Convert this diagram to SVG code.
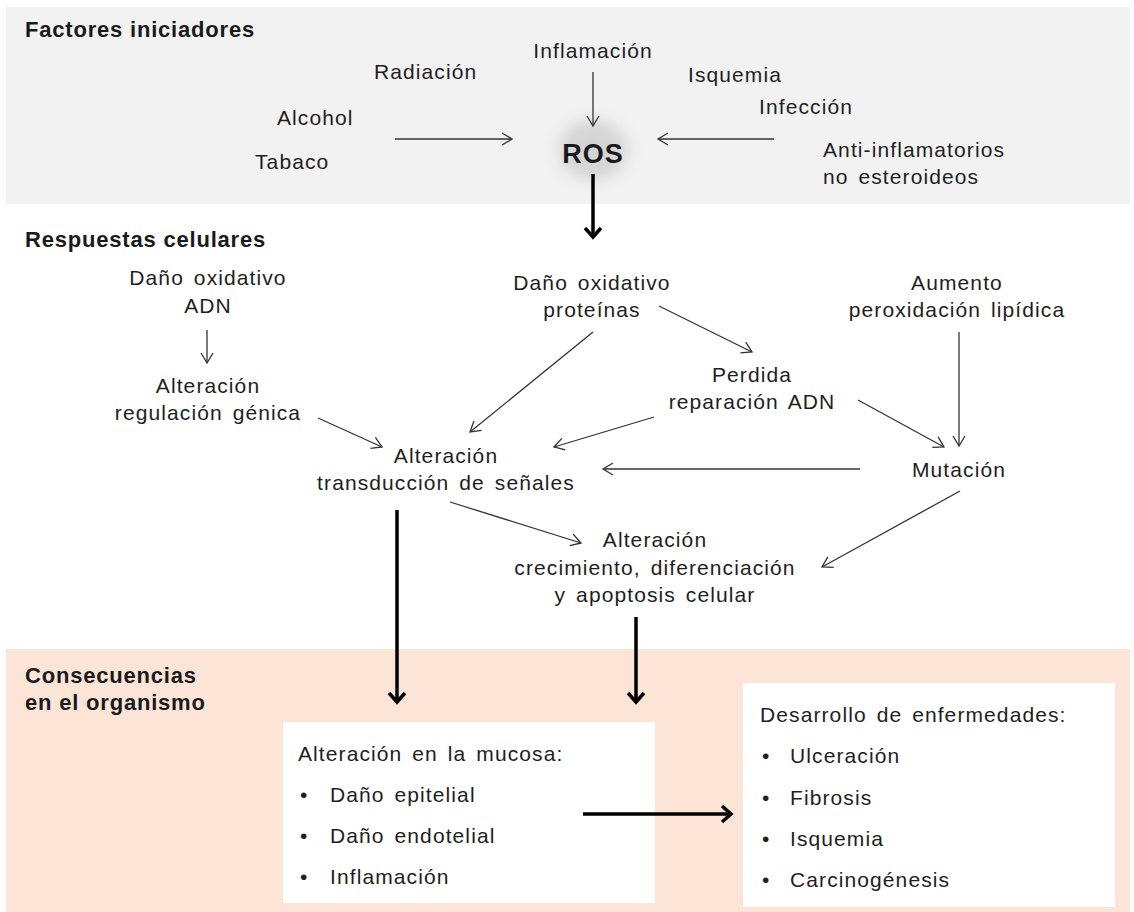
<svg xmlns="http://www.w3.org/2000/svg" width="1134" height="912" viewBox="0 0 1134 912">
  <defs>
    <style>
      .t { font-family: "Liberation Sans", Arial, sans-serif; font-size: 21px; fill: #1e1e1e; letter-spacing: 1.1px; word-spacing: 3px; }
      .c { text-anchor: middle; }
      .h { font-family: "Liberation Sans", Arial, sans-serif; font-size: 22px; font-weight: bold; fill: #1a1a1a; letter-spacing: 0.8px; }
      .thin { fill: none; stroke: #333; stroke-width: 1.3; marker-end: url(#open); }
      .thick { fill: none; stroke: #000; stroke-width: 3.5; marker-end: url(#bold); }
      .box { fill: #ffffff; }
    </style>
    <marker id="open" viewBox="-1 -1 14 16" refX="11" refY="7" markerWidth="14" markerHeight="16" orient="auto" markerUnits="userSpaceOnUse">
      <path d="M1,1 L11,7 L1,13" fill="none" stroke="#333" stroke-width="1.3"/>
    </marker>
    <marker id="bold" viewBox="-3 -3 18 24" refX="10" refY="9" markerWidth="18" markerHeight="24" orient="auto" markerUnits="userSpaceOnUse">
      <path d="M1,1 L10,9 L1,17" fill="none" stroke="#000" stroke-width="3.5"/>
    </marker>
    <radialGradient id="rosGlow" cx="0.5" cy="0.5" r="0.5">
      <stop offset="0" stop-color="#d2d2d2"/>
      <stop offset="0.55" stop-color="#d8d8d8"/>
      <stop offset="1" stop-color="#f2f2f2" stop-opacity="0"/>
    </radialGradient>
    <filter id="soft" x="-40%" y="-40%" width="180%" height="180%">
      <feGaussianBlur stdDeviation="4"/>
    </filter>
  </defs>

  <rect width="1134" height="912" fill="#ffffff"/>

  <!-- bands -->
  <rect x="6" y="7" width="1124" height="197" fill="#f2f2f2"/>
  <rect x="6" y="649" width="1124" height="263" fill="#fce5d7"/>

  <!-- section headings -->
  <text class="h" x="25" y="37">Factores iniciadores</text>
  <text class="h" x="25" y="247">Respuestas celulares</text>
  <text class="h" x="25" y="683">Consecuencias</text>
  <text class="h" x="25" y="710">en el organismo</text>

  <!-- initiating factors -->
  <g id="inflamacion"><text class="t c" x="593" y="58">Inflamación</text></g>
  <g id="radiacion"><text class="t" x="374" y="79">Radiación</text></g>
  <g id="isquemia"><text class="t" x="688" y="82">Isquemia</text></g>
  <g id="alcohol"><text class="t" x="277" y="125">Alcohol</text></g>
  <g id="infeccion"><text class="t" x="759" y="114">Infección</text></g>
  <g id="tabaco"><text class="t" x="255" y="169">Tabaco</text></g>
  <g id="aines">
    <text class="t" x="823" y="157">Anti-inflamatorios</text>
    <text class="t" x="823" y="184">no esteroideos</text>
  </g>
  <g id="ros">
    <ellipse cx="593" cy="150" rx="50" ry="44" fill="url(#rosGlow)" filter="url(#soft)"/>
    <text x="593" y="163" text-anchor="middle" font-family="Liberation Sans, Arial, sans-serif" font-size="27" font-weight="bold" fill="#1a1a1a" letter-spacing="1">ROS</text>
  </g>

  <!-- cellular responses -->
  <g id="dano-adn">
    <text class="t c" x="208" y="285">Daño oxidativo</text>
    <text class="t c" x="208" y="313">ADN</text>
  </g>
  <g id="regulacion">
    <text class="t c" x="208" y="393">Alteración</text>
    <text class="t c" x="208" y="420">regulación génica</text>
  </g>
  <g id="transduccion">
    <text class="t c" x="446" y="463">Alteración</text>
    <text class="t c" x="446" y="490">transducción de señales</text>
  </g>
  <g id="dano-proteinas">
    <text class="t c" x="592" y="290">Daño oxidativo</text>
    <text class="t c" x="592" y="317">proteínas</text>
  </g>
  <g id="reparacion">
    <text class="t c" x="752" y="382">Perdida</text>
    <text class="t c" x="752" y="409">reparación ADN</text>
  </g>
  <g id="peroxidacion">
    <text class="t c" x="957" y="290">Aumento</text>
    <text class="t c" x="957" y="317">peroxidación lipídica</text>
  </g>
  <g id="mutacion"><text class="t c" x="959" y="477">Mutación</text></g>
  <g id="crecimiento">
    <text class="t c" x="655" y="547">Alteración</text>
    <text class="t c" x="655" y="575">crecimiento, diferenciación</text>
    <text class="t c" x="655" y="602">y apoptosis celular</text>
  </g>

  <!-- consequences -->
  <g id="mucosa">
    <rect class="box" x="283" y="722" width="372" height="181"/>
    <text class="t" x="298" y="761">Alteración en la mucosa:</text>
    <text class="t" x="300" y="802">•</text><text class="t" x="330" y="802">Daño epitelial</text>
    <text class="t" x="300" y="843">•</text><text class="t" x="330" y="843">Daño endotelial</text>
    <text class="t" x="300" y="884">•</text><text class="t" x="330" y="884">Inflamación</text>
  </g>
  <g id="enfermedades">
    <rect class="box" x="743" y="683" width="372" height="224"/>
    <text class="t" x="760" y="722">Desarrollo de enfermedades:</text>
    <text class="t" x="762" y="763">•</text><text class="t" x="790" y="763">Ulceración</text>
    <text class="t" x="762" y="805">•</text><text class="t" x="790" y="805">Fibrosis</text>
    <text class="t" x="762" y="846">•</text><text class="t" x="790" y="846">Isquemia</text>
    <text class="t" x="762" y="887">•</text><text class="t" x="790" y="887">Carcinogénesis</text>
  </g>

  <!-- connectors -->
  <g id="connectors">
    <line class="thin" x1="593" y1="72" x2="593" y2="126"/>
    <line class="thin" x1="395" y1="139" x2="512" y2="139"/>
    <line class="thin" x1="774" y1="139" x2="658" y2="139"/>
    <line class="thick" x1="593" y1="174" x2="593" y2="237"/>

    <line class="thin" x1="207" y1="330" x2="207" y2="363"/>
    <line class="thin" x1="318" y1="418" x2="382" y2="447"/>
    <line class="thin" x1="593" y1="332" x2="470" y2="432"/>
    <line class="thin" x1="659" y1="306" x2="752" y2="352"/>
    <line class="thin" x1="654" y1="417" x2="554" y2="447"/>
    <line class="thin" x1="858" y1="400" x2="944" y2="447"/>
    <line class="thin" x1="959" y1="332" x2="959" y2="446"/>
    <line class="thin" x1="860" y1="469" x2="603" y2="469"/>
    <line class="thin" x1="960" y1="491" x2="822" y2="567"/>
    <line class="thin" x1="450" y1="502" x2="581" y2="543"/>

    <line class="thick" x1="397" y1="510" x2="397" y2="702"/>
    <line class="thick" x1="636" y1="617" x2="636" y2="702"/>
    <line class="thick" x1="583" y1="814" x2="731" y2="814"/>
  </g>
</svg>
